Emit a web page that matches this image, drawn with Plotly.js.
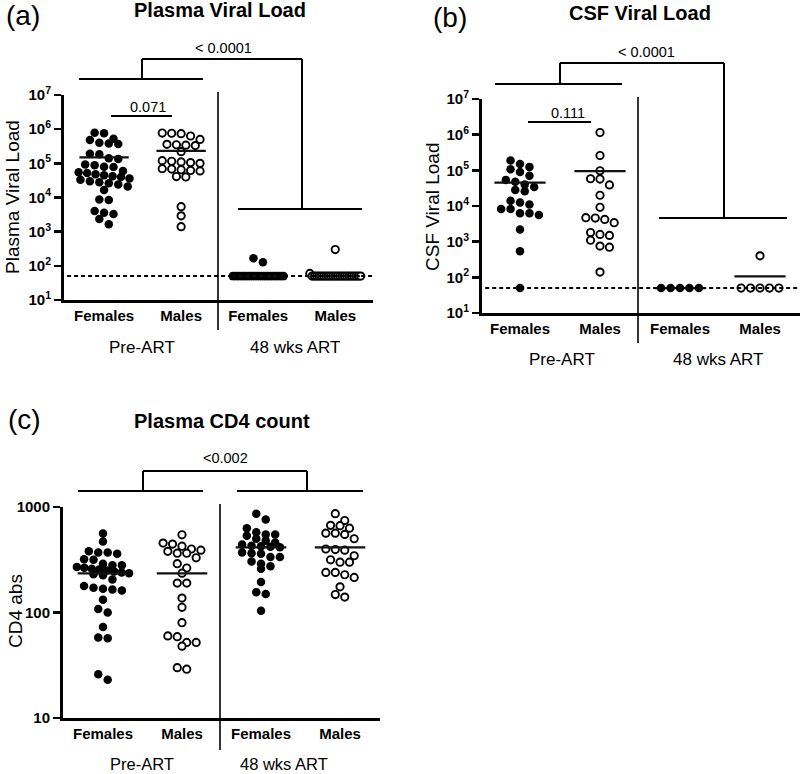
<!DOCTYPE html>
<html>
<head>
<meta charset="utf-8">
<script src="https://cdn.plot.ly/plotly-3.0.1.min.js"></script>
<style>html,body{margin:0;padding:0;background:#fff;}#chart{width:800px;height:774px;}</style>
</head>
<body>
<div id="chart"></div>
<script>
// ---------------- DATA ----------------
const categoryLabels = ['Females', 'Males', 'Females', 'Males'];
const groupLabels = ['Pre-ART', '48 wks ART'];

// (a) Plasma viral load
const plasmaPreF = [780000, 760000, 520000, 480000, 400000, 380000, 370000, 190000, 185000, 140000, 135000, 92000, 88000, 80000, 78000, 60000, 55000, 52000, 48000, 45000, 42000, 40000, 36000, 33000, 30000, 28000, 26000, 24000, 21000, 16500, 8500, 8800, 4000, 3600, 3300, 2350, 1650];
const plasmaPreM = [770000, 760000, 740000, 630000, 500000, 360000, 350000, 340000, 330000, 220000, 120000, 115000, 110000, 105000, 100000, 70000, 68000, 65000, 62000, 60000, 41000, 40000, 5400, 2900, 1400];
const plasma48F = [166, 127, 50, 50, 50, 50, 50, 50, 50, 50, 50, 50, 50, 50, 50, 50, 50, 50, 50, 50, 50, 50, 50, 50, 50, 50];
const plasma48M = [300, 60, 50, 50, 50, 50, 50, 50, 50, 50, 50, 50, 50, 50, 50, 50, 50, 50, 50, 50, 50, 50, 50, 50];
const plasmaMeans = [150000, 230000, 50, 50];

// (b) CSF viral load
const csfPreF = [190000, 150000, 125000, 107000, 90000, 70000, 54000, 48000, 40000, 34000, 28000, 26000, 14000, 12500, 11000, 8300, 8300, 6300, 6300, 5600, 2200, 540, 50];
const csfPreM = [1150000, 260000, 97000, 58000, 57000, 39000, 20000, 9200, 4700, 4600, 4200, 3400, 1800, 1600, 1500, 1100, 750, 700, 140];
const csf48F = [50, 50, 50, 50, 50];
const csf48M = [400, 50, 50, 50, 50, 50];
const csfMeans = [45000, 95000, 50, 107];

// (c) Plasma CD4 count
const cd4PreF = [560, 470, 380, 370, 370, 360, 320, 316, 290, 280, 280, 270, 265, 260, 255, 250, 245, 240, 235, 230, 225, 205, 178, 172, 168, 165, 162, 132, 108, 100, 73, 58, 57, 26, 23];
const cd4PreM = [545, 455, 445, 425, 400, 390, 380, 365, 365, 330, 290, 264, 236, 190, 190, 137, 112, 80, 60, 59, 52, 52, 48, 30, 29];
const cd448F = [865, 760, 630, 575, 550, 550, 535, 500, 480, 460, 440, 430, 425, 420, 415, 370, 365, 360, 335, 335, 305, 290, 275, 260, 195, 156, 150, 104];
const cd448M = [865, 745, 670, 665, 630, 565, 565, 550, 500, 400, 395, 390, 345, 316, 300, 300, 240, 240, 228, 215, 175, 148, 140];
const cd4Means = [235, 235, 415, 415];

const detectionLimit = 50;
const vlTickVals = [10, 100, 1000, 10000, 100000, 1000000, 10000000];
const vlTickText = ['10<sup>1</sup>', '10<sup>2</sup>', '10<sup>3</sup>', '10<sup>4</sup>', '10<sup>5</sup>', '10<sup>6</sup>', '10<sup>7</sup>'];
const cd4TickVals = [10, 100, 1000];
const cd4TickText = ['10', '100', '1000'];

// ---------------- LAYOUT HELPERS ----------------
const W = 800, H = 774;
const FONT = 'Liberation Sans, Arial, Helvetica, sans-serif';
const px = x => x / W;
const py = y => 1 - y / H;

const panels = [
  { xa: 'x', ya: 'y', groups: [plasmaPreF, plasmaPreM, plasma48F, plasma48M], means: plasmaMeans,
    xdom: [px(64), px(373)], ydom: [py(300), py(95)], xr: [-0.52, 3.49], yr: [1, 7],
    tv: vlTickVals, tt: vlTickText, limit: true },
  { xa: 'x2', ya: 'y2', groups: [csfPreF, csfPreM, csf48F, csf48M], means: csfMeans,
    xdom: [px(482), 1], ydom: [py(313), py(99)], xr: [-0.475, 3.5], yr: [1, 7],
    tv: vlTickVals, tt: vlTickText, limit: true },
  { xa: 'x3', ya: 'y3', groups: [cd4PreF, cd4PreM, cd448F, cd448M], means: cd4Means,
    xdom: [px(63), px(380)], ydom: [py(718), py(507)], xr: [-0.506, 3.506], yr: [1, 3],
    tv: cd4TickVals, tt: cd4TickText, limit: false }
];

function swarm(vals, center, pxPerCat, pxPerDec, dia, maxHalf) {
  const pts = vals.map(v => ({ v, p: Math.log10(v) * pxPerDec }));
  pts.sort((a, b) => b.p - a.p);
  const rows = []; let cur = null;
  for (const p of pts) {
    if (!cur || cur.top - p.p > dia * 0.8) { cur = { top: p.p, items: [] }; rows.push(cur); }
    cur.items.push(p);
  }
  const xs = [], ys = [];
  for (const r of rows) {
    const n = r.items.length;
    let s = dia * 1.05 / pxPerCat;
    if (n > 1 && (n - 1) * s > 2 * maxHalf) s = 2 * maxHalf / (n - 1);
    r.items.forEach((p, i) => { xs.push(center + (i - (n - 1) / 2) * s); ys.push(p.v); });
  }
  return { x: xs, y: ys };
}

const traces = [];
const layout = {
  width: W, height: H, margin: { l: 0, r: 0, t: 0, b: 0 },
  paper_bgcolor: '#fff', plot_bgcolor: 'rgba(0,0,0,0)', showlegend: false,
  font: { family: FONT, color: '#000' }, shapes: [], annotations: []
};

panels.forEach((P, pi) => {
  const sfx = pi === 0 ? '' : String(pi + 1);
  const pxPerCat = (P.xdom[1] - P.xdom[0]) * W / (P.xr[1] - P.xr[0]);
  const pxPerDec = (P.ydom[1] - P.ydom[0]) * H / (P.yr[1] - P.yr[0]);
  P.groups.forEach((vals, gi) => {
    const s = swarm(vals, gi, pxPerCat, pxPerDec, 9, 0.33);
    const filled = gi % 2 === 0;
    traces.push({
      type: 'scatter', mode: 'markers', x: s.x, y: s.y, xaxis: P.xa, yaxis: P.ya,
      hoverinfo: 'skip', cliponaxis: false,
      marker: filled ? { color: '#000', size: 8.5, line: { width: 0 } }
                     : { color: '#fff', size: 7.3, line: { color: '#000', width: 1.9 } }
    });
  });
  P.means.forEach((m, gi) => {
    traces.push({
      type: 'scatter', mode: 'lines', x: [gi - 0.32, gi + 0.32], y: [m, m],
      xaxis: P.xa, yaxis: P.ya, hoverinfo: 'skip',
      line: { color: '#111', width: 2.2 }
    });
  });
  layout['xaxis' + sfx] = {
    domain: P.xdom, range: P.xr, anchor: 'y' + sfx, tickmode: 'array',
    tickvals: [0, 1, 2, 3], ticktext: categoryLabels, ticks: '', showline: true,
    linewidth: 3, linecolor: '#000', showgrid: false, zeroline: false, fixedrange: true,
    tickfont: { family: FONT, size: 15, color: '#000', weight: 'bold' }
  };
  layout['yaxis' + sfx] = {
    type: 'log', domain: P.ydom, range: P.yr, anchor: 'x' + sfx, tickmode: 'array',
    tickvals: P.tv, ticktext: P.tt, ticks: 'outside', ticklen: 7, tickwidth: 2.5,
    tickcolor: '#000', showline: true, linewidth: 3, linecolor: '#000',
    showgrid: false, zeroline: false, fixedrange: true,
    tickfont: { family: FONT, size: 15, color: '#000', weight: 'bold' }
  };
  if (P.limit) {
    layout.shapes.push({ type: 'line', xref: 'x' + sfx + ' domain', yref: 'y' + sfx,
      x0: 0.01, x1: 1, y0: detectionLimit, y1: detectionLimit,
      line: { color: '#000', width: 2, dash: '4px,3px' } });
  }
});

// bracket / divider lines (pixel coordinates of the figure)
const segs = [
  // (a)
  [79, 79, 203, 79], [142, 79, 142, 59], [142, 59, 302, 59], [302, 59, 302, 209], [238, 209, 362, 209],
  [111, 116, 172, 116], [218, 92, 218, 330, 1.6],
  // (b)
  [495, 84, 622, 84], [560, 84, 560, 63], [560, 63, 724, 63], [724, 63, 724, 218], [659, 218, 787, 218],
  [528, 122, 591, 122], [638, 97, 638, 343, 1.6],
  // (c)
  [78, 491, 203, 491], [143, 491, 143, 471], [143, 471, 307, 471], [307, 471, 307, 491], [237, 491, 363, 491],
  [220, 504, 220, 750, 1.6]
];
segs.forEach(s => layout.shapes.push({ type: 'line', xref: 'paper', yref: 'paper',
  x0: px(s[0]), y0: py(s[1]), x1: px(s[2]), y1: py(s[3]), line: { color: '#000', width: s[4] || 2 } }));

function ann(text, x, y, size, bold, angle) {
  layout.annotations.push({ text, x: px(x), y: py(y), xref: 'paper', yref: 'paper',
    xanchor: 'center', yanchor: 'middle', showarrow: false, textangle: angle || 0, borderpad: 0,
    font: { family: FONT, size, color: '#000', weight: bold ? 'bold' : 'normal' } });
}
// panel letters & titles
ann('(a)', 23, 16, 28); ann('Plasma Viral Load', 220, 10, 20, true);
ann('(b)', 450, 17, 28); ann('CSF Viral Load', 640, 13, 20, true);
ann('(c)', 24, 419, 28); ann('Plasma CD4 count', 222, 421, 20, true);
// p-values
ann('&lt; 0.0001', 223, 48, 14.5); ann('0.071', 148, 107, 14.5);
ann('&lt; 0.0001', 646, 52, 14.5); ann('0.111', 568, 113, 14.5);
ann('&lt;0.002', 225, 458, 14.5);
// y titles
ann('Plasma Viral Load', 12, 197, 19, false, -90);
ann('CSF Viral Load', 432, 207, 19, false, -90);
ann('CD4 abs', 15, 611, 19, false, -90);
// group labels
ann(groupLabels[0], 142, 347, 17); ann(groupLabels[1], 295, 347, 17);
ann(groupLabels[0], 562, 360, 17); ann(groupLabels[1], 718, 360, 17);
ann(groupLabels[0], 142, 764, 16.5); ann(groupLabels[1], 284, 764, 16.5);

Plotly.newPlot('chart', traces, layout, { displayModeBar: false, staticPlot: true });
</script>
</body>
</html>
